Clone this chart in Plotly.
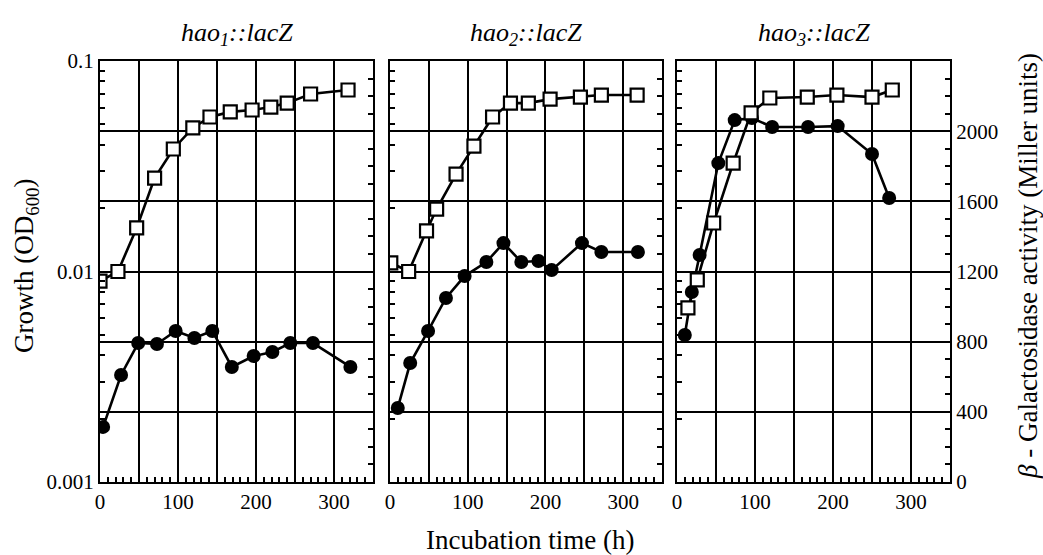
import plotly.graph_objects as go

W, H = 1043, 555

# time points (h) and values
# open squares = growth (OD600, left log axis)
# filled circles = beta-galactosidase (Miller units, right axis)
t1_od = [0, 23, 47, 70, 94, 119, 141, 167, 195, 219, 240, 270, 318]
od1 = [0.0090, 0.0100, 0.0161, 0.0278, 0.0382, 0.0481, 0.0542, 0.0573, 0.0585, 0.0604, 0.0631, 0.0697, 0.0728]
t1_gal = [4, 27, 49, 73, 97, 121, 144, 169, 197, 221, 244, 273, 321]
gal1 = [314, 610, 792, 787, 861, 821, 861, 656, 718, 741, 792, 792, 656]

t2_od = [1, 24, 47, 60, 85, 108, 132, 155, 178, 206, 245, 272, 318]
od2 = [0.0110, 0.0100, 0.0156, 0.0198, 0.0290, 0.0394, 0.0542, 0.0631, 0.0631, 0.0659, 0.0674, 0.0689, 0.0689]
t2_gal = [10, 26, 49, 72, 96, 124, 146, 169, 191, 208, 247, 272, 319]
gal2 = [422, 678, 861, 1049, 1174, 1254, 1362, 1254, 1260, 1208, 1362, 1311, 1311]

t3_od = [14, 26, 47, 72, 95, 119, 167, 205, 250, 276]
od3 = [0.00671, 0.00912, 0.0170, 0.0327, 0.0567, 0.0667, 0.0674, 0.0689, 0.0674, 0.0728]
t3_gal = [10, 19, 29, 53, 74, 96, 122, 168, 206, 250, 272]
gal3 = [838, 1083, 1294, 1818, 2063, 2075, 2024, 2024, 2029, 1870, 1619]

titles = ["<i>hao</i><sub><i>1</i></sub><i>::lacZ</i>",
          "<i>hao</i><sub><i>2</i></sub><i>::lacZ</i>",
          "<i>hao</i><sub><i>3</i></sub><i>::lacZ</i>"]

x_ticks = [0, 50, 100, 150, 200, 250, 300, 350]
x_labels = ["0", "", "100", "", "200", "", "300", ""]
gal_ticks = [0, 400, 800, 1200, 1600, 2000, 2400]
gal_labels = ["0", "400", "800", "1200", "1600", "2000", ""]
od_ticks = [0.001, 0.002, 0.003, 0.004, 0.005, 0.006, 0.007, 0.008, 0.009,
            0.01, 0.02, 0.03, 0.04, 0.05, 0.06, 0.07, 0.08, 0.09, 0.1]
od_labels = ["0.001", "", "", "", "", "", "", "", "",
             "0.01", "", "", "", "", "", "", "", "", "0.1"]

panels = [(t1_od, od1, t1_gal, gal1), (t2_od, od2, t2_gal, gal2), (t3_od, od3, t3_gal, gal3)]

# pixel boxes of the three panels
xpix = [(100, 373), (390, 662), (677, 950)]
ytop, ybot = 61, 482
ydom = [(H - ybot) / H, (H - ytop) / H]

tickfont = dict(family="Liberation Serif", color="black", size=21)

fig = go.Figure()
layout = {}
for i, (tod, od, tgal, gal) in enumerate(panels):
    n = i + 1
    xname = "x" if n == 1 else "x%d" % n
    ylin = "y" if n == 1 else "y%d" % (2 * n - 1)
    ylog = "y%d" % (2 * n)

    fig.add_trace(go.Scatter(x=tgal, y=gal, xaxis=xname, yaxis=ylin, mode="lines+markers",
                             line=dict(color="black", width=2.6),
                             marker=dict(symbol="circle", size=14, color="black")))
    fig.add_trace(go.Scatter(x=tod, y=od, xaxis=xname, yaxis=ylog, mode="lines+markers",
                             line=dict(color="black", width=2.6),
                             marker=dict(symbol="square", size=13, color="white",
                                         line=dict(color="black", width=2.2))))

    xk = "xaxis" if n == 1 else "xaxis%d" % n
    layout[xk] = dict(domain=[xpix[i][0] / W, xpix[i][1] / W], anchor=ylin, range=[0, 350],
                      tickvals=x_ticks, ticktext=x_labels, ticks="inside", ticklen=5,
                      tickcolor="black", tickwidth=1.5, showgrid=True, gridcolor="black",
                      gridwidth=1.6, showline=True, linecolor="black", linewidth=2.2,
                      mirror=True, zeroline=False, tickfont=tickfont, automargin=False,
                      minor=dict(dtick=10, ticks="inside", ticklen=5, tickcolor="black",
                                 tickwidth=1.5, showgrid=False))

    ylk = "yaxis" if n == 1 else "yaxis%d" % (2 * n - 1)
    layout[ylk] = dict(domain=ydom, anchor=xname, side="right", range=[0, 2400],
                       tickvals=gal_ticks, ticktext=gal_labels, showticklabels=(n == 3),
                       ticks="inside", ticklen=5, tickcolor="black", tickwidth=1.5,
                       showgrid=True, gridcolor="black", gridwidth=1.6,
                       showline=True, linecolor="black", linewidth=2.2, zeroline=False,
                       tickfont=tickfont, automargin=False,
                       minor=dict(dtick=100, ticks="inside", ticklen=5, tickcolor="black",
                                  tickwidth=1.5, showgrid=False))

    ygk = "yaxis%d" % (2 * n)
    layout[ygk] = dict(domain=ydom, anchor=xname, overlaying=ylin, side="left", type="log",
                       range=[-3, -1], tickvals=od_ticks, ticktext=od_labels,
                       showticklabels=(n == 1), ticks="inside", ticklen=5, tickcolor="black",
                       tickwidth=1.5, showgrid=False, showline=True, linecolor="black",
                       linewidth=2.2, zeroline=False, tickfont=tickfont, automargin=False)


def note(text, x, y, size, angle=0):
    return dict(text=text, x=x / W, y=1 - y / H, xref="paper", yref="paper",
                xanchor="center", yanchor="middle", showarrow=False, textangle=angle,
                font=dict(family="Liberation Serif", color="black", size=size))


annotations = [note(t, (xpix[i][0] + xpix[i][1]) / 2, 34, 26) for i, t in enumerate(titles)]
annotations.append(note("Growth (OD<sub>600</sub>)", 26, 266, 27, -90))
annotations.append(note("<i>β</i> - Galactosidase activity (Miller units)", 1028, 266, 27, -90))
annotations.append(note("Incubation time (h)", 530, 540, 27))

fig.update_layout(**layout)
fig.update_layout(width=W, height=H, margin=dict(l=0, r=0, t=0, b=0, autoexpand=False),
                  paper_bgcolor="white", plot_bgcolor="white", showlegend=False,
                  annotations=annotations)

fig.write_html("out.html", config={"displayModeBar": False},
               post_script="document.body.style.margin='0';")
